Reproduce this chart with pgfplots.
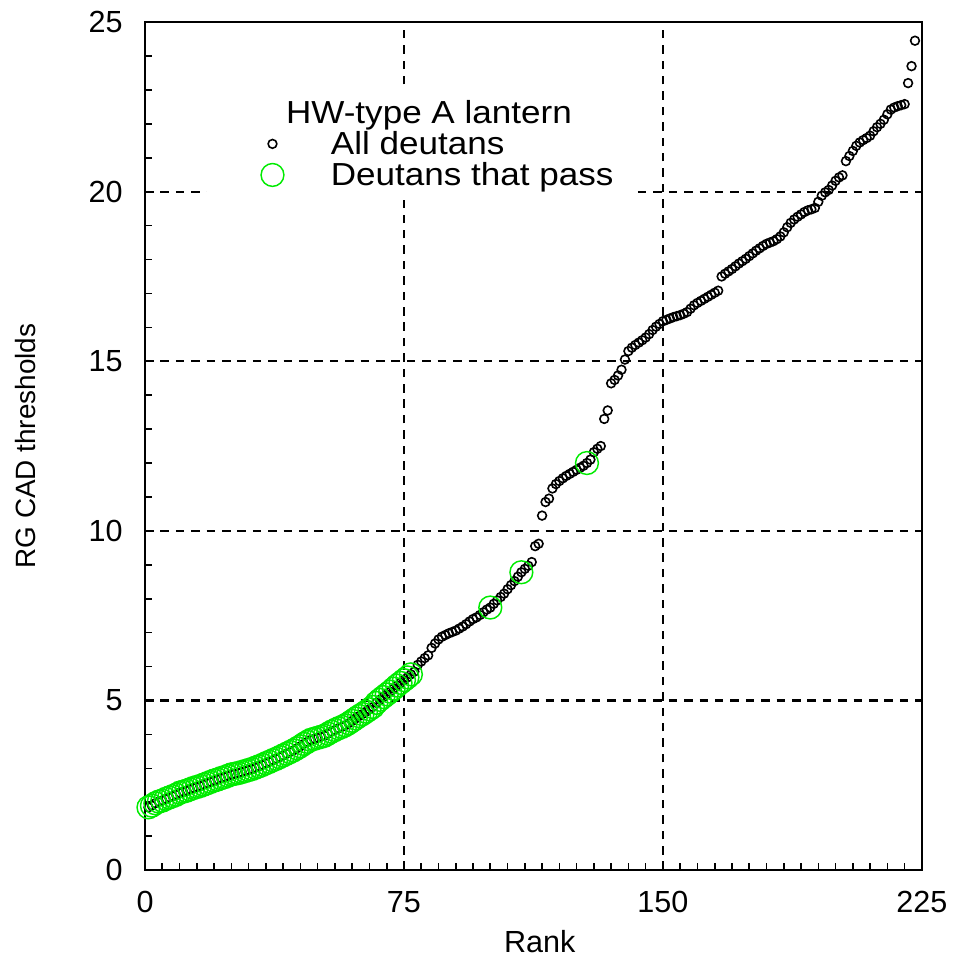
\documentclass[border=0pt]{standalone}
\usepackage{fontspec}
\setmainfont{Liberation Sans}
\newfontfamily\legfont[FakeStretch=1.1]{Liberation Sans}
\usepackage{pgfplots}
\pgfplotsset{compat=1.18}
\usepackage{pgfplotstable}
\definecolor{passgreen}{RGB}{0,235,0}

\pgfplotstableread{
rank y
1 1.85
2 1.90
3 1.97
4 2.02
5 2.05
6 2.10
7 2.14
8 2.18
9 2.22
10 2.28
11 2.31
12 2.34
13 2.38
14 2.42
15 2.45
16 2.48
17 2.52
18 2.56
19 2.60
20 2.64
21 2.67
22 2.71
23 2.74
24 2.78
25 2.82
26 2.84
27 2.86
28 2.89
29 2.92
30 2.95
31 2.98
32 3.02
33 3.06
34 3.10
35 3.15
36 3.19
37 3.24
38 3.28
39 3.33
40 3.38
41 3.43
42 3.48
43 3.53
44 3.59
45 3.65
46 3.72
47 3.78
48 3.84
49 3.87
50 3.90
51 3.93
52 3.96
53 4.02
54 4.08
55 4.13
56 4.18
57 4.22
58 4.27
59 4.33
60 4.40
61 4.47
62 4.54
63 4.60
64 4.67
65 4.74
66 4.81
67 4.93
68 5.02
69 5.10
70 5.18
71 5.26
72 5.35
73 5.44
74 5.52
75 5.60
76 5.68
77 5.77
78 5.85
79 6.05
80 6.15
81 6.25
82 6.33
83 6.55
84 6.68
85 6.80
86 6.88
87 6.93
88 6.98
89 7.02
90 7.06
91 7.12
92 7.18
93 7.25
94 7.33
95 7.40
96 7.45
97 7.52
98 7.60
99 7.68
100 7.74
101 7.85
102 7.95
103 8.05
104 8.15
105 8.28
106 8.40
107 8.52
108 8.65
109 8.78
110 8.88
111 8.97
112 9.08
113 9.55
114 9.62
115 10.45
116 10.85
117 10.95
118 11.25
119 11.38
120 11.47
121 11.55
122 11.62
123 11.68
124 11.74
125 11.80
126 11.86
127 11.92
128 12.00
129 12.10
130 12.32
131 12.42
132 12.50
133 13.30
134 13.55
135 14.35
136 14.45
137 14.58
138 14.75
139 15.05
140 15.30
141 15.40
142 15.48
143 15.55
144 15.62
145 15.70
146 15.80
147 15.92
148 16.02
149 16.10
150 16.18
151 16.22
152 16.26
153 16.30
154 16.33
155 16.36
156 16.40
157 16.45
158 16.55
159 16.65
160 16.72
161 16.78
162 16.84
163 16.90
164 16.96
165 17.02
166 17.08
167 17.50
168 17.58
169 17.65
170 17.72
171 17.80
172 17.88
173 17.95
174 18.02
175 18.10
176 18.18
177 18.26
178 18.33
179 18.40
180 18.46
181 18.50
182 18.54
183 18.60
184 18.68
185 18.80
186 18.95
187 19.08
188 19.18
189 19.26
190 19.33
191 19.40
192 19.45
193 19.48
194 19.52
195 19.70
196 19.88
197 19.98
198 20.05
199 20.18
200 20.32
201 20.42
202 20.48
203 20.90
204 21.05
205 21.20
206 21.35
207 21.45
208 21.52
209 21.58
210 21.65
211 21.78
212 21.90
213 22.00
214 22.12
215 22.28
216 22.42
217 22.48
218 22.52
219 22.55
220 22.58
221 23.20
222 23.70
223 24.45
}\alldata

\pgfplotstableread{
rank y
1 1.85
2 1.90
3 1.97
4 2.02
5 2.05
6 2.10
7 2.14
8 2.18
9 2.22
10 2.28
11 2.31
12 2.34
13 2.38
14 2.42
15 2.45
16 2.48
17 2.52
18 2.56
19 2.60
20 2.64
21 2.67
22 2.71
23 2.74
24 2.78
25 2.82
26 2.84
27 2.86
28 2.89
29 2.92
30 2.95
31 2.98
32 3.02
33 3.06
34 3.10
35 3.15
36 3.19
37 3.24
38 3.28
39 3.33
40 3.38
41 3.43
42 3.48
43 3.53
44 3.59
45 3.65
46 3.72
47 3.78
48 3.84
49 3.87
50 3.90
51 3.93
52 3.96
53 4.02
54 4.08
55 4.13
56 4.18
57 4.22
58 4.27
59 4.33
60 4.40
61 4.47
62 4.54
63 4.60
64 4.67
65 4.74
66 4.81
67 4.93
68 5.02
69 5.10
70 5.18
71 5.26
72 5.35
73 5.44
74 5.52
75 5.60
76 5.68
77 5.77
100 7.74
109 8.78
128 12.00
}\passdata

\begin{document}
\begin{tikzpicture}
\begin{axis}[
  scale only axis,
  width=292.5pt, height=319.3pt,
  xmin=0, xmax=225, ymin=0, ymax=25,
  xtick={0,75,150,225}, ytick={0,5,10,15,20,25},
  minor x tick num=14, minor y tick num=4,
  tick align=inside, xtick pos=lower, ytick pos=left,
  major tick length=3.5pt, minor tick length=2.6pt,
  tick style={black, line width=0.6pt},
  grid=major,
  major grid style={black, line width=0.8pt, dash pattern=on 3.2pt off 2.6pt},
  axis line style={line width=0.9pt},
  /pgf/number format/assume math mode=true,
  ticklabel style={font=\fontsize{11.5}{13}\selectfont},
  xticklabel style={anchor=base, yshift=-15.8pt},
  yticklabel style={anchor=east, xshift=-4.9pt},
  xlabel={Rank},
  ylabel={RG CAD thresholds},
  xlabel style={font=\fontsize{11.5}{13}\selectfont, at={(axis description cs:0.5,0)}, anchor=base, yshift=-31pt, xshift=2.4pt},
  ylabel style={font=\fontsize{10.5}{12}\selectfont, at={(axis description cs:0,0.5)}, anchor=base, yshift=41.4pt},
  legend cell align=left,
  legend image code/.code={\draw[mark repeat=2,mark phase=2,#1] plot coordinates {(0pt,4pt)(6pt,4pt)(12pt,4pt)};},
  legend style={at={(axis cs:32.15,22.70)}, anchor=north west, draw=none, fill=none,
    inner sep=0pt, row sep=0pt,
    nodes={inner sep=0pt, text height=8.6pt, text depth=3.1pt, anchor=base west, font=\legfont\fontsize{12}{14}\selectfont},
    /tikz/column 1/.style={column sep=17.7pt}},
]
\fill[white] (axis cs:18,19.75) rectangle (axis cs:141.2,23.0);
\addlegendimage{legend image code/.code={}}
\addlegendentry{\hspace*{-16.9pt}HW-type A lantern}
\addplot[only marks, mark=o, mark size=1.65pt, black, mark options={line width=0.6pt}] table[x=rank, y=y] {\alldata};
\addlegendentry{All deutans}
\addplot[only marks, mark=o, mark size=4.3pt, passgreen, mark options={line width=0.55pt}] table[x=rank, y=y] {\passdata};
\addlegendentry{Deutans that pass}
\end{axis}
\pgfresetboundingbox
\path (-54.6pt,-33.1pt) rectangle (305.4pt,327.6pt);
\end{tikzpicture}
\end{document}
